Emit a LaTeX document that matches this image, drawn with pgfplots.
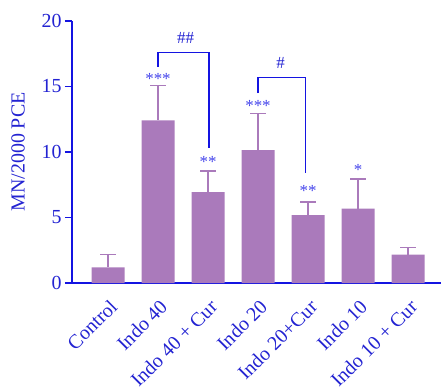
\documentclass[border=0pt]{standalone}
\usepackage{pgfplots}
\pgfplotsset{compat=1.18}
\usepackage{fontspec}
\setmainfont{Liberation Serif}
\definecolor{barc}{RGB}{170,122,187}
\definecolor{axc}{RGB}{20,20,225}
\definecolor{txc}{RGB}{35,35,210}
\definecolor{stc}{RGB}{70,70,235}
\begin{document}
\begin{tikzpicture}
\useasboundingbox (0bp,0bp) rectangle (441bp,387bp);
\begin{axis}[
  at={(72bp,104bp)}, anchor=south west,
  scale only axis, width=369bp, height=262bp,
  xmin=-0.72, xmax=6.66, ymin=0, ymax=20,
  axis x line=bottom, axis y line=left,
  axis line style={axc, line width=1.6pt, -},
  ytick={0,5,10,15,20},
  yticklabels={0,5,10,15,20},
  xtick={0,...,6},
  xticklabels={Control,Indo 40,Indo 40 + Cur,Indo 20,Indo 20+Cur,Indo 10,Indo 10 + Cur},
  x tick label style={rotate=45, anchor=north east, font=\fontsize{20}{20}\selectfont, text=txc, xshift=-2bp, yshift=-3bp},
  y tick label style={font=\fontsize{20}{20}\selectfont, text=txc},
  major tick length=7bp,
  ytick style={axc, line width=1.6pt},
  xtick style={draw=none},
  tick align=outside,
  ylabel={MN/2000 PCE},
  every axis y label/.style={at={(axis description cs:-0.146,0.5)}, rotate=90, anchor=center, font=\fontsize{20}{20}\selectfont, text=txc},
  clip=false,
]
\addplot[ybar, bar width=33bp, fill=barc, draw=none,
  error bars/.cd, y dir=plus, y explicit, error bar style={barc, line width=1.4pt}, error mark options={barc, line width=1.4pt, mark size=8bp, rotate=90}]
  table[x=x, y=y, y error=e] {
x y e
0 1.19 0.97
1 12.42 2.65
2 6.94 1.62
3 10.14 2.80
4 5.18 1.00
5 5.67 2.26
6 2.16 0.56
};
% brackets
\draw[axc, line width=1.8pt] (axis cs:1,16.5) -- (axis cs:1,17.59) -- (axis cs:2.02,17.59) -- (axis cs:2.02,10.34);
\draw[axc, line width=1.8pt] (axis cs:3,14.49) -- (axis cs:3,15.68) -- (axis cs:3.95,15.68) -- (axis cs:3.95,8.39);
\node[text=txc, font=\fontsize{17}{17}\selectfont] at (axis cs:1.55,18.7) {\#\#};
\node[text=txc, font=\fontsize{17}{17}\selectfont] at (axis cs:3.45,16.8) {\#};
\node[text=stc, font=\fontsize{17}{17}\selectfont] at (axis cs:1,15.6) {***};
\node[text=stc, font=\fontsize{17}{17}\selectfont] at (axis cs:2,9.25) {**};
\node[text=stc, font=\fontsize{17}{17}\selectfont] at (axis cs:3,13.5) {***};
\node[text=stc, font=\fontsize{17}{17}\selectfont] at (axis cs:4,7.0) {**};
\node[text=stc, font=\fontsize{17}{17}\selectfont] at (axis cs:5,8.6) {*};
\end{axis}
\end{tikzpicture}
\end{document}
